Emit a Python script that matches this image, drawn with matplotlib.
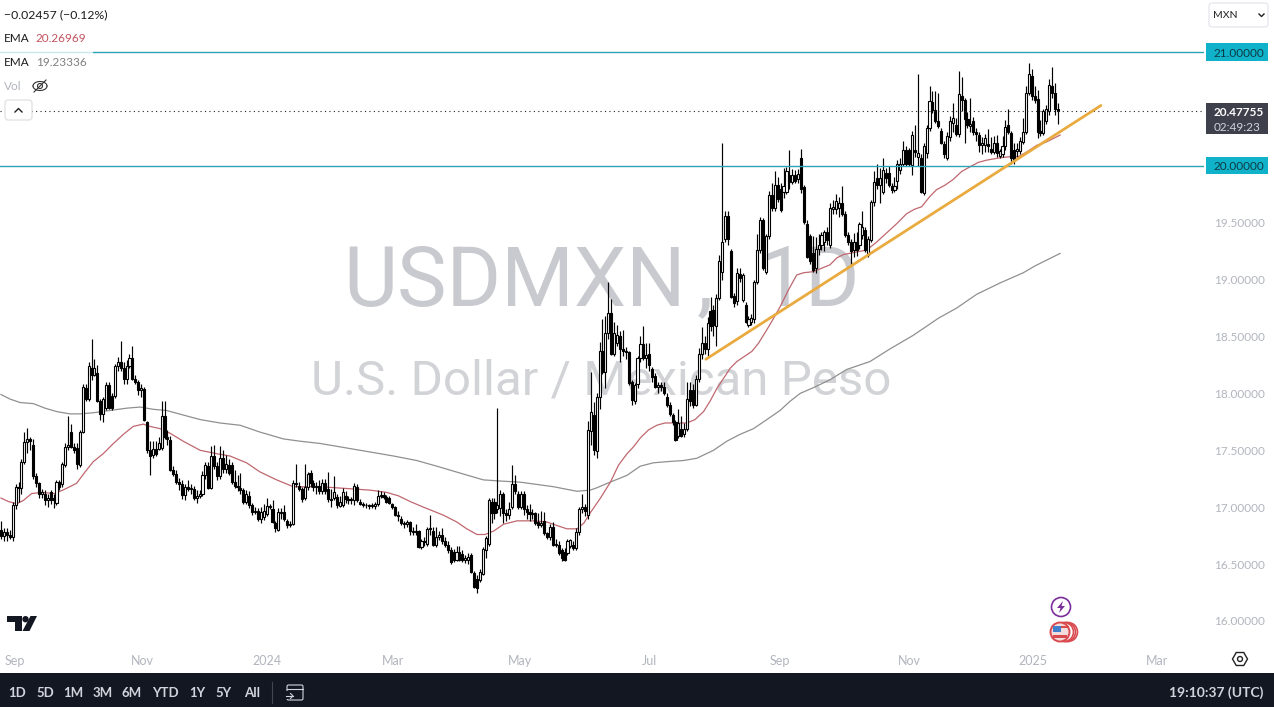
import matplotlib
matplotlib.use('Agg')
import matplotlib.pyplot as plt
from matplotlib.patches import Circle, FancyBboxPatch, Polygon, Rectangle, RegularPolygon
from matplotlib.transforms import blended_transform_factory
import numpy as np

plt.rcParams['font.family'] = ['Lato', 'DejaVu Sans']

opens = [
    16.80,16.75,16.78,16.76,16.74,17.02,17.18,17.17,17.40,17.57,
    17.60,17.55,17.27,17.21,17.12,17.12,17.06,17.13,17.08,17.04,
    17.22,17.20,17.37,17.53,17.66,17.53,17.52,17.37,17.66,18.05,
    17.95,18.22,18.16,18.18,17.93,17.82,17.87,18.07,17.98,17.98,
    18.24,18.28,18.22,18.13,18.24,18.31,18.13,18.10,18.03,18.04,
    17.75,17.50,17.46,17.51,17.51,17.52,17.80,17.62,17.59,17.33,
    17.29,17.22,17.20,17.11,17.18,17.16,17.16,17.08,17.10,17.12,
    17.28,17.36,17.17,17.45,17.36,17.27,17.43,17.34,17.37,17.37,
    17.22,17.19,17.17,17.15,17.05,17.10,17.02,16.96,16.97,16.90,
    16.91,16.94,17.00,16.98,16.86,16.80,16.95,16.96,16.88,16.84,
    16.85,17.21,17.19,17.16,17.08,17.18,17.30,17.21,17.18,17.19,
    17.14,17.21,17.16,17.07,17.08,17.09,17.01,17.02,17.10,17.07,
    17.06,17.06,17.18,17.05,17.03,17.02,17.02,17.01,17.01,17.03,
    17.10,17.11,17.09,17.08,17.03,17.00,16.93,16.90,16.86,16.85,
    16.87,16.78,16.79,16.79,16.65,16.70,16.68,16.81,16.79,16.67,
    16.74,16.76,16.70,16.67,16.62,16.61,16.54,16.61,16.59,16.54,
    16.54,16.58,16.42,16.37,16.36,16.41,16.62,16.68,17.05,17.05,
    16.98,16.99,17.12,16.95,16.93,17.00,17.20,17.12,17.00,17.12,
    16.98,16.96,16.94,16.95,16.87,16.84,16.88,16.77,16.74,16.83,
    16.67,16.67,16.62,16.61,16.60,16.66,16.67,16.64,16.78,16.98,
    17.00,16.93,17.67,17.81,17.49,17.97,18.37,18.19,18.53,18.71,
    18.35,18.44,18.50,18.39,18.37,18.36,18.10,17.93,18.08,18.31,
    18.43,18.31,18.35,18.21,18.15,18.06,18.07,18.06,17.97,17.90,
    17.81,17.75,17.63,17.69,17.64,17.69,18.03,18.03,17.90,18.13,
    18.35,18.44,18.39,18.72,18.73,18.59,18.84,19.07,19.36,19.56,
    19.25,18.86,18.81,19.05,18.82,18.78,18.60,18.63,18.65,18.98,
    19.26,19.52,19.07,19.38,19.74,19.63,19.83,19.80,19.77,19.77,
    19.92,19.86,19.92,19.88,20.07,19.81,19.49,19.38,19.23,19.10,
    19.27,19.30,19.33,19.42,19.30,19.62,19.62,19.63,19.67,19.58,
    19.39,19.33,19.26,19.33,19.30,19.39,19.44,19.22,19.35,19.68,
    19.89,19.83,19.77,19.94,19.94,19.82,19.79,19.87,19.96,20.02,
    20.14,20.14,20.01,20.14,20.08,20.07,19.76,20.11,20.33,20.56,
    20.49,20.39,20.31,20.19,20.07,20.25,20.38,20.36,20.28,20.61,
    20.58,20.41,20.35,20.39,20.30,20.27,20.18,20.18,20.19,20.15,
    20.12,20.20,20.09,20.10,20.17,20.36,20.29,20.14,20.13,20.13,
    20.21,20.30,20.64,20.79,20.61,20.59,20.31,20.29,20.39,20.48,
    20.70,20.64,20.50]
highs = [
    16.88,16.82,16.82,16.80,17.05,17.20,17.22,17.42,17.66,17.70,
    17.62,17.60,17.30,17.22,17.16,17.15,17.12,17.15,17.12,17.24,
    17.24,17.40,17.56,17.80,17.73,17.56,17.56,17.68,18.08,18.08,
    18.28,18.48,18.30,18.25,17.95,17.97,18.10,18.10,18.00,18.26,
    18.32,18.46,18.28,18.29,18.35,18.42,18.16,18.12,18.08,18.06,
    17.76,17.58,17.58,17.58,17.62,17.93,17.93,17.68,17.63,17.36,
    17.33,17.26,17.24,17.20,17.24,17.20,17.19,17.15,17.15,17.32,
    17.40,17.40,17.54,17.55,17.40,17.54,17.50,17.46,17.42,17.40,
    17.33,17.28,17.30,17.17,17.15,17.14,17.04,17.00,16.99,17.00,
    17.03,17.08,17.03,17.06,16.88,16.99,16.99,17.02,16.90,16.88,
    17.24,17.38,17.22,17.18,17.38,17.31,17.33,17.24,17.22,17.24,
    17.25,17.25,17.31,17.16,17.27,17.12,17.10,17.17,17.14,17.10,
    17.09,17.21,17.20,17.07,17.05,17.04,17.03,17.04,17.05,17.15,
    17.14,17.13,17.11,17.10,17.04,17.01,16.97,16.92,16.88,16.89,
    16.88,16.83,16.85,16.80,16.72,16.74,16.83,16.93,16.83,16.83,
    16.79,16.82,16.74,16.70,16.65,16.63,16.66,16.66,16.62,16.58,
    16.60,16.60,16.44,16.40,16.46,16.65,16.75,17.08,17.08,17.08,
    17.87,17.15,17.13,16.98,17.05,17.37,17.28,17.14,17.14,17.14,
    17.02,17.03,16.98,16.96,16.95,16.97,16.96,16.78,16.85,16.87,
    16.72,16.70,16.64,16.64,16.72,16.72,16.70,16.82,17.00,17.12,
    17.03,17.76,18.19,17.92,18.00,18.45,18.65,18.68,18.98,18.83,
    18.63,18.60,18.55,18.56,18.41,18.37,18.12,18.09,18.33,18.50,
    18.59,18.44,18.44,18.23,18.18,18.10,18.10,18.10,18.00,17.92,
    17.83,17.77,17.86,17.80,17.74,18.10,18.10,18.08,18.16,18.40,
    18.58,18.50,18.67,18.85,18.78,18.87,19.22,20.20,19.60,19.60,
    19.27,18.88,19.10,19.10,19.06,18.80,18.68,18.70,19.00,19.40,
    19.55,19.54,19.40,19.78,19.85,19.95,19.90,19.85,19.98,19.99,
    20.14,19.97,19.96,19.97,20.15,19.83,19.52,19.40,19.38,19.37,
    19.40,19.42,19.44,19.46,19.67,19.70,19.75,19.73,19.82,19.60,
    19.42,19.36,19.41,19.42,19.51,19.60,19.46,19.38,19.70,19.95,
    20.02,19.98,20.07,19.98,20.00,19.85,19.90,20.05,20.07,20.22,
    20.17,20.16,20.31,20.36,20.81,20.10,20.20,20.36,20.70,20.66,
    20.66,20.64,20.33,20.22,20.30,20.44,20.55,20.42,20.83,20.78,
    20.60,20.47,20.60,20.43,20.33,20.30,20.25,20.28,20.32,20.25,
    20.26,20.27,20.15,20.26,20.40,20.50,20.31,20.20,20.20,20.25,
    20.42,20.70,20.90,20.85,20.70,20.67,20.40,20.50,20.53,20.76,
    20.87,20.73,20.55]
lows = [
    16.72,16.70,16.70,16.72,16.70,16.98,17.05,17.12,17.38,17.48,
    17.50,17.25,17.18,17.08,17.08,17.02,17.00,17.03,16.99,17.02,
    17.15,17.18,17.35,17.50,17.52,17.48,17.34,17.35,17.65,17.93,
    17.93,18.12,18.15,17.92,17.77,17.75,17.85,17.86,17.85,17.96,
    18.20,18.20,18.08,18.08,18.22,18.12,18.08,17.99,17.97,17.76,
    17.48,17.28,17.43,17.45,17.50,17.50,17.60,17.55,17.32,17.27,
    17.20,17.15,17.07,17.06,17.14,17.12,17.06,17.04,17.08,17.10,
    17.25,17.16,17.16,17.34,17.24,17.25,17.30,17.30,17.28,17.20,
    17.17,17.14,17.12,17.03,17.03,16.99,16.93,16.94,16.88,16.86,
    16.89,16.92,16.98,16.86,16.78,16.79,16.90,16.88,16.82,16.83,
    16.84,17.18,17.14,17.05,17.06,17.15,17.18,17.14,17.12,17.12,
    17.12,17.12,17.05,17.00,17.06,16.99,17.00,17.00,17.04,17.03,
    17.03,17.02,17.05,17.02,17.00,16.99,16.98,16.99,16.98,17.01,
    17.08,17.07,17.04,17.03,16.98,16.92,16.88,16.84,16.82,16.83,
    16.76,16.76,16.76,16.64,16.63,16.66,16.66,16.76,16.66,16.65,
    16.71,16.68,16.65,16.60,16.50,16.52,16.53,16.53,16.52,16.51,
    16.50,16.42,16.29,16.25,16.34,16.40,16.55,16.66,16.86,16.90,
    16.95,16.92,16.86,16.88,16.90,16.98,17.12,16.98,16.98,16.93,
    16.90,16.88,16.90,16.84,16.82,16.83,16.76,16.72,16.71,16.66,
    16.65,16.58,16.53,16.53,16.58,16.64,16.62,16.62,16.76,16.95,
    16.92,16.90,17.55,17.46,17.43,17.86,18.17,18.05,18.48,18.34,
    18.33,18.42,18.28,18.33,18.30,18.07,17.90,17.91,18.05,18.28,
    18.29,18.22,18.20,18.10,18.05,18.00,18.02,17.99,17.88,17.80,
    17.72,17.58,17.61,17.62,17.62,17.67,17.89,17.87,17.89,18.10,
    18.30,18.35,18.33,18.55,18.50,18.42,18.82,19.00,19.33,19.30,
    18.84,18.76,18.78,18.98,18.80,18.62,18.58,18.60,18.62,18.96,
    19.23,19.08,19.05,19.36,19.60,19.60,19.68,19.59,19.72,19.75,
    19.80,19.84,19.85,19.85,19.76,19.49,19.19,19.14,19.07,19.06,
    19.22,19.26,19.25,19.30,19.28,19.58,19.58,19.55,19.56,19.37,
    19.30,19.12,19.20,19.21,19.27,19.36,19.24,19.20,19.33,19.65,
    19.80,19.67,19.75,19.85,19.81,19.76,19.77,19.80,19.93,20.00,
    20.00,20.00,19.92,20.08,20.00,19.76,19.74,20.07,20.31,20.46,
    20.38,20.33,20.19,20.07,20.05,20.22,20.30,20.26,20.25,20.48,
    20.20,20.33,20.30,20.27,20.22,20.12,20.10,20.12,20.12,20.10,
    20.10,20.08,20.07,20.08,20.14,20.28,20.02,20.02,20.08,20.10,
    20.19,20.28,20.62,20.58,20.55,20.24,20.26,20.27,20.37,20.45,
    20.60,20.45,20.37]
closes = [
    16.75,16.78,16.76,16.74,17.02,17.18,17.17,17.40,17.57,17.60,
    17.58,17.27,17.21,17.12,17.13,17.06,17.08,17.06,17.06,17.22,
    17.18,17.38,17.53,17.55,17.53,17.50,17.38,17.66,18.06,17.95,
    18.24,18.16,18.22,17.93,17.82,17.95,18.07,17.87,17.87,18.24,
    18.28,18.22,18.13,18.24,18.31,18.13,18.10,18.03,18.05,17.77,
    17.50,17.45,17.51,17.47,17.56,17.80,17.62,17.60,17.33,17.29,
    17.22,17.20,17.11,17.18,17.16,17.17,17.08,17.10,17.12,17.28,
    17.37,17.17,17.45,17.36,17.27,17.43,17.34,17.38,17.30,17.22,
    17.19,17.18,17.15,17.05,17.12,17.02,16.96,16.97,16.90,16.96,
    16.97,17.01,17.01,16.87,16.82,16.96,16.96,16.90,16.84,16.85,
    17.21,17.20,17.16,17.07,17.18,17.29,17.21,17.18,17.19,17.14,
    17.21,17.14,17.07,17.06,17.13,17.02,17.05,17.13,17.07,17.06,
    17.07,17.19,17.06,17.03,17.02,17.02,17.01,17.02,17.03,17.10,
    17.11,17.09,17.05,17.04,17.00,16.93,16.92,16.86,16.85,16.87,
    16.79,16.79,16.78,16.65,16.70,16.69,16.81,16.82,16.67,16.74,
    16.76,16.70,16.67,16.62,16.52,16.54,16.61,16.54,16.54,16.55,
    16.56,16.43,16.30,16.29,16.43,16.63,16.73,17.06,16.95,16.95,
    17.02,17.12,16.95,16.93,16.98,17.20,17.14,17.00,17.12,16.98,
    16.96,16.94,16.95,16.86,16.84,16.86,16.77,16.74,16.83,16.67,
    16.68,16.60,16.55,16.54,16.70,16.71,16.64,16.78,16.98,17.00,
    16.97,17.68,17.84,17.50,17.97,18.37,18.19,18.53,18.71,18.35,
    18.53,18.51,18.39,18.37,18.36,18.09,17.94,18.07,18.31,18.43,
    18.31,18.34,18.25,18.14,18.06,18.07,18.06,18.00,17.90,17.82,
    17.75,17.59,17.74,17.63,17.69,17.95,17.93,17.90,18.13,18.35,
    18.44,18.39,18.62,18.59,18.60,18.84,19.16,19.33,19.56,19.36,
    18.85,18.79,19.06,19.01,19.04,18.63,18.65,18.66,18.98,19.26,
    19.52,19.10,19.38,19.74,19.63,19.83,19.71,19.61,19.82,19.95,
    19.86,19.92,19.87,19.93,19.80,19.51,19.20,19.16,19.08,19.27,
    19.30,19.39,19.42,19.35,19.63,19.64,19.69,19.67,19.58,19.39,
    19.33,19.25,19.33,19.26,19.49,19.46,19.26,19.36,19.68,19.86,
    19.83,19.89,19.96,19.89,19.83,19.79,19.82,20.02,20.02,20.14,
    20.02,20.02,20.27,20.12,20.11,19.77,20.17,20.33,20.57,20.49,
    20.39,20.35,20.20,20.10,20.26,20.39,20.42,20.28,20.63,20.58,
    20.41,20.36,20.37,20.30,20.28,20.18,20.20,20.24,20.17,20.12,
    20.20,20.11,20.13,20.17,20.34,20.30,20.07,20.05,20.15,20.22,
    20.30,20.64,20.81,20.61,20.58,20.30,20.29,20.48,20.50,20.71,
    20.64,20.50,20.478]

ema50_bar = [0,2.5,5.4,7.7,10.5,14,18.5,22,25.9,28.8,31.6,35,38.5,41.9,45.3,48.7,51,54.5,57.9,62.4,68.2,73.9,78.4,84.1,88.7,94.4,100.1,109.3,
             115,120.7,126.4,132.1,136.1,140.1,144.7,151.5,156.1,159.5,163,165.8,168.7,172.1,176.7,182.4,186.9,190.3,193.8,
             197.3,199.6,201.8,205.3,208.7,211.5,214.4,216.6,219,221.8,224.6,227.4,230.3,234.9,237.7,240.6,242.8,245.1,247.4,249.7,252,254.3,257.2,259.4,262.3,264.6,266.8,269.7,272.5,274.8,278.2,
             283.9,286.2,288.5,292.5,296.5,299.9,303.3,306.7,310.2,313,315.3,318.1,320.4,323.3,326.1,329,331.8,334.7,337.6,342.1,345.5,348.4,351.2,354.7,358.1,362.7]
ema50 = [17.08,17.05,17.03,17.06,17.12,17.13,17.12,17.16,17.21,17.31,17.40,17.47,17.56,17.64,17.71,17.73,17.71,17.69,17.65,17.58,17.50,17.47,17.45,17.39,17.31,17.24,17.18,17.18,
         17.17,17.16,17.15,17.13,17.10,17.05,17.00,16.93,16.87,16.81,16.76,16.76,16.79,16.85,16.88,16.88,16.87,16.84,16.81,
         16.81,16.86,16.95,17.08,17.22,17.37,17.47,17.53,17.61,17.68,17.72,17.74,17.74,17.74,17.77,17.84,17.93,18.04,18.13,18.22,18.28,18.32,18.37,18.44,18.56,18.66,18.76,18.91,19.04,19.06,19.07,
         19.13,19.19,19.22,19.24,19.26,19.33,19.41,19.49,19.58,19.62,19.64,19.73,19.79,19.83,19.88,19.95,19.99,20.03,20.05,20.07,20.08,20.08,20.12,20.18,20.21,20.27]
ema200_bar = [0,3.1,6.5,11.1,15.1,19.1,23.6,27.1,31.6,37.3,43,47.6,52.2,56.7,62.4,68.2,75,81.9,88.7,96.7,102.4,109.3,
              120.7,127.6,134.4,142.4,149.3,157.2,165.2,170.9,177.8,183.5,189.2,197.2,201.8,
              204,208.6,214.4,218.9,223.4,228,233.7,238.3,244,248.6,253.1,257.7,262.3,266.8,270.2,273.7,278.2,
              283.9,289.6,297.6,304.4,312.4,317,321,327.3,334.1,342.1,350.1,354.1,362.7]
ema200 = [17.99,17.95,17.92,17.91,17.87,17.84,17.82,17.82,17.83,17.85,17.87,17.88,17.86,17.85,17.81,17.77,17.74,17.72,17.66,17.60,17.58,17.56,
          17.51,17.48,17.45,17.41,17.36,17.30,17.24,17.23,17.22,17.20,17.18,17.14,17.15,
          17.17,17.22,17.28,17.36,17.39,17.40,17.41,17.43,17.50,17.58,17.64,17.69,17.77,17.85,17.93,18.00,18.05,
          18.12,18.21,18.28,18.39,18.51,18.59,18.66,18.75,18.87,18.97,19.06,19.12,19.23]

trend_bar = [241.4, 376.7]
trend_price = [18.30, 20.53]
levels = [21.0, 20.0]
last_price = 20.47755
price_ticks = [16.0, 16.5, 17.0, 17.5, 18.0, 18.5, 19.0, 19.5]
month_ticks = [4.8, 48.3, 91, 134.2, 177.7, 222, 266.8, 311, 353.4, 396]
month_labels = ['Sep', 'Nov', '2024', 'Mar', 'May', 'Jul', 'Sep', 'Nov', '2025', 'Mar']
ranges = ['1D', '5D', '1M', '3M', '6M', 'YTD', '1Y', '5Y', 'All']
range_px = [17, 45, 73, 103, 132, 165, 197, 224, 252]

W, H = 1274, 707
fig = plt.figure(figsize=(W / 100, H / 100), dpi=100, facecolor='white')

# main pane: 1204 px wide, 645 px high
ax = fig.add_axes([0, 1 - 645 / H, 1204 / W, 645 / H])
ax.set_xlim(-0.342, 412.0)
ax.set_ylim(15.789, 21.457)
for s in ax.spines.values():
    s.set_visible(False)

wm = dict(transform=ax.transAxes, color='#c9cacf', family='Roboto', va='baseline', zorder=1)
ax.text(343 / 1204, 1 - 306 / 645, 'USDMXN', fontsize=60, ha='left', **wm)
ax.text(697 / 1204, 1 - 306 / 645, ',', fontsize=60, ha='left', **wm)
ax.text(860 / 1204, 1 - 306 / 645, '1D', fontsize=60, ha='right', **wm)
ax.text(601 / 1204, 1 - 395 / 645, 'U.S. Dollar / Mexican Peso', transform=ax.transAxes, color='#d2d3d7',
        fontsize=35.5, ha='center', va='baseline', family='Roboto', zorder=1)

ax.plot(ema200_bar, ema200, color='#909090', lw=0.9, zorder=2)
ax.plot(ema50_bar, ema50, color='#c0676f', lw=0.9, zorder=2)

o = np.array(opens)
c = np.array(closes)
bars = np.arange(len(o))
ax.vlines(bars, lows, highs, color='black', lw=0.85, zorder=3)
up = c >= o
ax.bar(bars[up], (c - o)[up], bottom=o[up], width=0.72, facecolor='white', edgecolor='black', lw=0.8, zorder=4)
ax.bar(bars[~up], (c - o)[~up], bottom=o[~up], width=0.72, facecolor='black', edgecolor='black', lw=0.8, zorder=4)

for lv in levels:
    ax.axhline(lv, color='#2ba3b3', lw=1.0, zorder=5)
ax.axhline(last_price, color='#222222', lw=0.8, ls=(0, (1, 3)), zorder=5)
ax.plot(trend_bar, trend_price, color='#e9ab3f', lw=2.0, solid_capstyle='round', zorder=6)

ax.set_yticks(price_ticks)
ax.set_yticklabels(['%.5f' % p for p in price_ticks])
ax.set_xticks(month_ticks)
ax.set_xticklabels(month_labels)
ax.yaxis.tick_right()
ax.tick_params(axis='y', length=0, pad=7.2, labelsize=8.5, labelcolor='#b2b5be')
ax.tick_params(axis='x', length=0, pad=7, labelsize=9, labelcolor='#b2b5be')

# overlay in pixel coordinates for the TradingView chrome
ui = fig.add_axes([0, 0, 1, 1], facecolor='none')
ui.set_xlim(0, W)
ui.set_ylim(H, 0)
ui.axis('off')

# price tags on the right, x in pixels and y in prices
tr = blended_transform_factory(ui.transData, ax.transData)
for lv in levels:
    ui.add_patch(Rectangle((1206, lv - 0.075), 62, 0.15, transform=tr, fc='#0fb2c9', ec='none'))
    ui.text(1214, lv, '%.5f' % lv, transform=tr, fontsize=8.5, color='#0d3b44', va='center_baseline')
ui.add_patch(Rectangle((1206, last_price - 0.2), 62, 0.27, transform=tr, fc='#3e404c', ec='none'))
ui.text(1214, last_price, '%.5f' % last_price, transform=tr, fontsize=8.5, color='white', fontweight='bold', va='center_baseline')
ui.text(1214, last_price - 0.13, '02:49:23', transform=tr, fontsize=8.5, color='#d1d4dc', va='center_baseline')

ui.add_patch(Rectangle((0, 47), 93, 10, fc='white', ec='none', alpha=0.75))
ui.text(4, 15, '\u22120.02457 (\u22120.12%)', fontsize=8.85, color='#1c1c1c', va='center')
ui.text(4, 38, 'EMA', fontsize=8.5, color='#1c1c1c', va='center')
ui.text(36, 38, '20.26969', fontsize=8.5, color='#c2535f', va='center')
ui.text(4, 62, 'EMA', fontsize=8.5, color='#1c1c1c', va='center')
ui.text(36, 62, '19.23336', fontsize=8.5, color='#808080', va='center')
ui.text(4, 86, 'Vol', fontsize=8.5, color='#b2b5be', va='center')

# crossed eye
t = np.linspace(0, np.pi, 30)
ui.plot(40 + 7 * np.cos(t), 86 - 4.5 * np.sin(t), color='#333333', lw=0.8)
ui.plot(40 + 7 * np.cos(t), 86 + 4.5 * np.sin(t), color='#333333', lw=0.8)
ui.add_patch(Circle((40, 86), 2.5, fc='none', ec='#333333', lw=0.8))
ui.plot([34, 46], [92, 80], color='#333333', lw=0.8)

ui.add_patch(FancyBboxPatch((5, 100), 27, 20, boxstyle='round,pad=0,rounding_size=3', fc='white', ec='#dcdcdc', lw=0.8))
ui.plot([15, 18.5, 22], [112, 108.5, 112], color='#222222', lw=1.0)

ui.add_patch(FancyBboxPatch((1209, 3), 59, 24, boxstyle='round,pad=0,rounding_size=3', fc='white', ec='#e0e3eb', lw=0.8))
ui.text(1213, 15, 'MXN', fontsize=7.5, color='#222222', va='center')
ui.plot([1259, 1261.5, 1264], [14, 16.5, 14], color='#222222', lw=1.0)

# logo
ui.add_patch(Polygon([(7, 616), (22, 616), (22, 631), (15, 631), (15, 622), (7, 622)], fc='#131722', ec='none'))
ui.add_patch(Circle((25.5, 619.2), 3.2, fc='#131722', ec='none'))
ui.add_patch(Polygon([(30.5, 616), (37, 616), (29.5, 631), (22.5, 631)], fc='#131722', ec='none'))

# event icons
ui.add_patch(Circle((1061, 607), 9.5, fc='white', ec='#7b2d9b', lw=1.2))
ui.add_patch(Polygon([(1063, 601), (1057, 608), (1060.5, 608), (1059, 613), (1065, 606), (1061.5, 606)], fc='#7b2d9b', ec='none'))
for dx in [6, 4, 2]:
    ui.add_patch(Circle((1062 + dx, 632), 9.5, fc='white', ec='#d94a4f', lw=1.2))
ui.add_patch(Circle((1060, 632), 9.5, fc='#f4dcdc', ec='#d94a4f', lw=1.4))
ui.add_patch(Rectangle((1053, 626), 8, 6, fc='#3f7fcb', ec='none'))
ui.add_patch(Rectangle((1061, 626), 8, 2, fc='#d94a4f', ec='none'))
ui.add_patch(Rectangle((1053, 635), 14, 3, fc='#d94a4f', ec='none'))

# gear
ui.add_patch(RegularPolygon((1240, 659), 6, radius=7.5, orientation=np.pi / 6, fc='white', ec='#222222', lw=1.0))
ui.add_patch(Circle((1240, 659), 2.5, fc='white', ec='#222222', lw=1.0))

# bottom bar
ui.add_patch(Rectangle((0, 673), W, 34, fc='#131722', ec='none'))
for lab, px in zip(ranges, range_px):
    ui.text(px, 693, lab, fontsize=9.5, color='#d1d4dc', ha='center', va='center', fontweight='bold')
ui.plot([271.5, 271.5], [682, 703], color='#434651', lw=0.8)
ui.add_patch(FancyBboxPatch((287, 685), 16, 15, boxstyle='round,pad=0,rounding_size=1.5', fc='none', ec='#d1d4dc', lw=0.8))
ui.plot([287, 303], [689, 689], color='#d1d4dc', lw=0.8)
ui.add_patch(Rectangle((285, 691), 8, 8, fc='#131722', ec='none'))
ui.plot([286, 293], [696, 696], color='#d1d4dc', lw=0.8)
ui.plot([290.5, 293, 290.5], [693.5, 696, 698.5], color='#d1d4dc', lw=0.8)
ui.text(1263, 693, '19:10:37 (UTC)', fontsize=10, color='#d1d4dc', ha='right', va='center', fontweight='bold')

plt.savefig('out.png', dpi=100, facecolor='white')
